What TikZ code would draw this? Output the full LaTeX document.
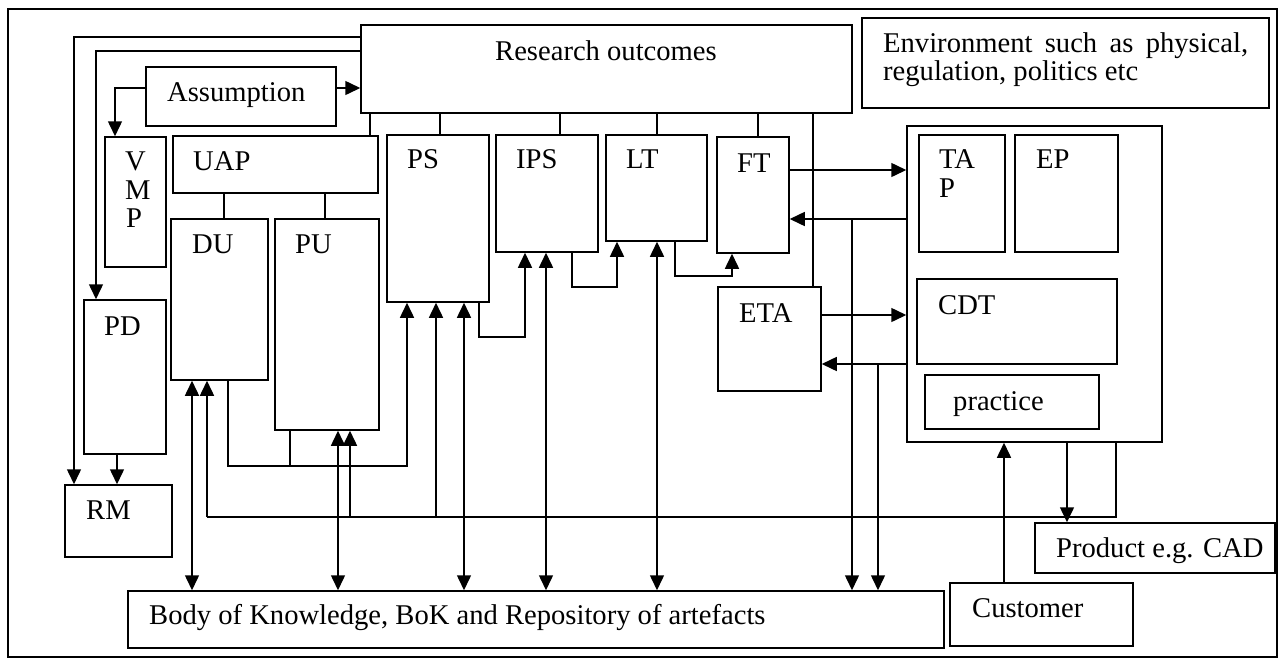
\documentclass[tikz,border=0pt]{standalone}
\usepackage{fontspec}
\setmainfont{Liberation Serif}
\usetikzlibrary{arrows.meta,fit}
\begin{document}
\begin{tikzpicture}[x=1pt,y=-1pt,
  box/.style={draw, line width=1.5pt, inner sep=0pt},
  txt/.style={inner sep=0pt, anchor=base west, font=\fontsize{28.6}{29}\selectfont},
  ln/.style={line width=1.5pt},
  arr/.style={ln, -{Triangle[length=15pt,width=14pt]}},
  darr/.style={ln, {Triangle[length=15pt,width=14pt]}-{Triangle[length=15pt,width=14pt]}}]
\useasboundingbox (0,0) rectangle (1283,664);
% boxes
\node[box, fit={(8,9)(1277,657)}] (frame) {};
\node[box, fit={(361,25)(852,113)}] (RO) {};
\node[box, fit={(862,18)(1269,108)}] (ENV) {};
\node[box, fit={(146,67)(336,126)}] (AS) {};
\node[box, fit={(105,137)(166,267)}] (VMP) {};
\node[box, fit={(173,136)(378,193)}] (UAP) {};
\node[box, fit={(171,219)(268,380)}] (DU) {};
\node[box, fit={(275,219)(379,430)}] (PU) {};
\node[box, fit={(387,135)(489,302)}] (PS) {};
\node[box, fit={(496,135)(598,252)}] (IPS) {};
\node[box, fit={(606,135)(707,241)}] (LT) {};
\node[box, fit={(717,137)(789,253)}] (FT) {};
\node[box, fit={(718,287)(821,391)}] (ETA) {};
\node[box, fit={(907,126)(1162,442)}] (BIG) {};
\node[box, fit={(919,135)(1005,252)}] (TAP) {};
\node[box, fit={(1015,135)(1118,252)}] (EP) {};
\node[box, fit={(917,279)(1117,364)}] (CDT) {};
\node[box, fit={(925,375)(1099,429)}] (PR) {};
\node[box, fit={(84,300)(166,454)}] (PD) {};
\node[box, fit={(65,485)(172,557)}] (RM) {};
\node[box, fit={(128,591)(944,648)}] (BOK) {};
\node[box, fit={(1035,523)(1275,573)}] (PROD) {};
\node[box, fit={(950,583)(1133,646)}] (CUS) {};
% texts
\node[txt] (tRO) at (495,60) {Research outcomes};
\node[txt] (tENV1) at (883,52) {\makebox[365pt][s]{Environment such as physical,}};
\node[txt] (tENV2) at (883,80) {regulation, politics etc};
\node[txt] (tAS) at (167,101) {Assumption};
\node[txt] (tV) at (125,170) {V};
\node[txt] (tM) at (125,199) {M};
\node[txt] (tP) at (126,227) {P};
\node[txt] (tUAP) at (193,170) {UAP};
\node[txt] (tDU) at (192,253) {DU};
\node[txt] (tPU) at (295,253) {PU};
\node[txt] (tPS) at (407,168) {PS};
\node[txt] (tIPS) at (516,168) {IPS};
\node[txt] (tLT) at (626,168) {LT};
\node[txt] (tFT) at (737,172) {FT};
\node[txt] (tETA) at (739,322) {ETA};
\node[txt] (tTA) at (939,168) {TA};
\node[txt] (tTP) at (939,197) {P};
\node[txt] (tEP) at (1036,168) {EP};
\node[txt] (tCDT) at (938,314) {CDT};
\node[txt] (tPR) at (953,410) {practice};
\node[txt] (tPD) at (104,335) {PD};
\node[txt] (tRM) at (86,519) {RM};
\node[txt] (tBOK) at (149,624) {Body of Knowledge, BoK and Repository of artefacts};
\node[txt] (tPROD) at (1056,557) {Product e.g. CAD};
\node[txt] (tCUS) at (972,617) {Customer};
% connectors
\draw[arr] (RO.west |- 0,37) -| (RM.north -| 74,0);
\draw[arr] (RO.west |- 0,51) -| (PD.north -| 96,0);
\draw[arr] (AS.east |- 0,88) -- (RO.west |- 0,88);
\draw[arr] (AS.west |- 0,88) -| (VMP.north -| 115,0);
\draw[ln] (UAP.north -| 370,0) -- (RO.south -| 370,0);
\draw[ln] (UAP.south -| 224,0) -- (DU.north -| 224,0);
\draw[ln] (UAP.south -| 325,0) -- (PU.north -| 325,0);
\draw[ln] (PS.north -| 440,0) -- (RO.south -| 440,0);
\draw[ln] (IPS.north -| 560,0) -- (RO.south -| 560,0);
\draw[ln] (LT.north -| 657,0) -- (RO.south -| 657,0);
\draw[ln] (FT.north -| 758,0) -- (RO.south -| 758,0);
\draw[ln] (RO.south -| 813,0) -- (ETA.north -| 813,0);
\draw[arr] (FT.east |- 0,170) -- (BIG.west |- 0,170);
\draw[arr] (BIG.west |- 0,219) -- (FT.east |- 0,219);
\coordinate (j1) at (852,219);
\draw[arr] (j1) -- (BOK.north -| j1);
\draw[arr] (ETA.east |- 0,315) -- (BIG.west |- 0,315);
\draw[arr] (BIG.west |- 0,364) -- (ETA.east |- 0,364);
\coordinate (j2) at (878,364);
\draw[arr] (j2) -- (BOK.north -| j2);
\draw[arr] (CUS.north -| 1004,0) -- (BIG.south -| 1004,0);
\draw[arr] (BIG.south -| 1067,0) -- (PROD.north -| 1067,0);
\coordinate (h1) at (1116,517);
\coordinate (h2) at (207,517);
\coordinate (h3) at (436,517);
\coordinate (h4) at (350,517);
\draw[ln] (BIG.south -| h1) -- (h1) -- (h2);
\draw[arr] (h2) -- (DU.south -| h2);
\draw[arr] (h3) -- (PS.south -| h3);
\draw[arr] (h4) -- (PU.south -| h4);
\coordinate (k1) at (228,466);
\coordinate (k2) at (407,466);
\coordinate (k3) at (290,466);
\draw[arr] (DU.south -| k1) -- (k1) -- (k2) -- (PS.south -| k2);
\draw[ln] (PU.south -| k3) -- (k3);
\draw[darr] (DU.south -| 192,0) -- (BOK.north -| 192,0);
\draw[darr] (PU.south -| 338,0) -- (BOK.north -| 338,0);
\draw[darr] (PS.south -| 464,0) -- (BOK.north -| 464,0);
\draw[darr] (IPS.south -| 546,0) -- (BOK.north -| 546,0);
\draw[darr] (LT.south -| 657,0) -- (BOK.north -| 657,0);
\coordinate (m1) at (479,337);
\coordinate (m2) at (525,337);
\draw[arr] (PS.south -| m1) -- (m1) -- (m2) -- (IPS.south -| m2);
\coordinate (n1) at (572,287);
\coordinate (n2) at (617,287);
\draw[arr] (IPS.south -| n1) -- (n1) -- (n2) -- (LT.south -| n2);
\coordinate (p1) at (675,276);
\coordinate (p2) at (732,276);
\draw[arr] (LT.south -| p1) -- (p1) -- (p2) -- (FT.south -| p2);
\draw[arr] (PD.south -| 117,0) -- (RM.north -| 117,0);
\end{tikzpicture}
\end{document}
